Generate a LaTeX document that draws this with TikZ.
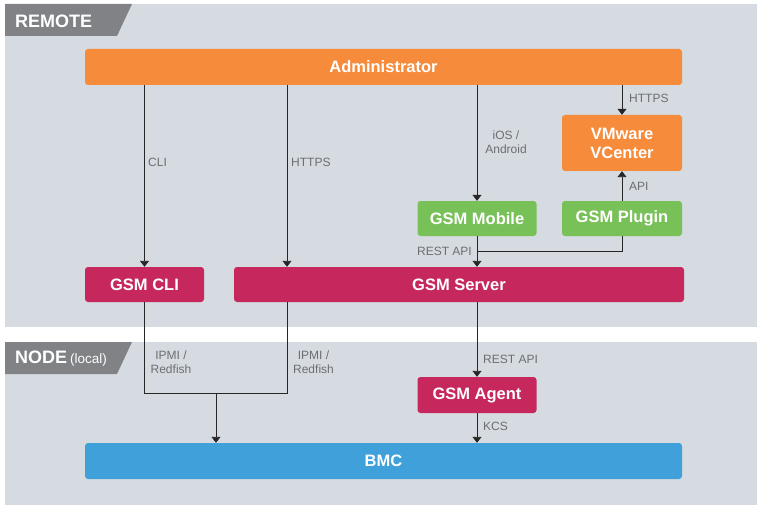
\documentclass[tikz,border=0pt]{standalone}
\usepackage{fontspec}
\setmainfont{Liberation Sans}
\usetikzlibrary{arrows.meta,positioning}
\definecolor{panelgray}{HTML}{D5DBE1}
\definecolor{taggray}{HTML}{808285}
\definecolor{admorange}{HTML}{F68B3B}
\definecolor{gsmgreen}{HTML}{78C159}
\definecolor{gsmred}{HTML}{C6285E}
\definecolor{bmcblue}{HTML}{3FA0DA}
\definecolor{lblgray}{HTML}{6D6E71}
\tikzset{box/.style={rounded corners=3pt, text=white, font=\fontsize{16.5}{19}\selectfont\bfseries, align=center, inner sep=0pt},
         lbl/.style={text=lblgray, font=\fontsize{12}{14}\selectfont, align=center, inner sep=0pt},
         arr/.style={draw=black!85, line width=0.9pt, -{Triangle[width=9pt,length=6pt]}},
         wire/.style={draw=black!85, line width=0.9pt}}

\begin{document}
\begin{tikzpicture}[x=1pt,y=-1pt] % 1pt is one pixel of the picture, y runs down
\useasboundingbox (0,0) rectangle (757,505);
% the two zones
\fill[panelgray] (5,4) rectangle (757,327);
\fill[panelgray] (5,342) rectangle (757,505);
\fill[taggray] (5,4) -- (132,4) -- (117,36) -- (5,36) -- cycle;
\fill[taggray] (5,342) -- (132,342) -- (117,374) -- (5,374) -- cycle;
\node[anchor=west, text=white, font=\fontsize{18}{20}\selectfont\bfseries, inner sep=0pt] (remote) at (15,21) {REMOTE};
\node[anchor=west, text=white, font=\fontsize{18}{20}\selectfont\bfseries, inner sep=0pt] (nodetag) at (15,359) {NODE\,{\mdseries\fontsize{13.5}{15}\selectfont(local)}};
% boxes
\node[box, fill=admorange, minimum width=597pt, minimum height=36pt] (adm) at (383.5,67) {Administrator};
\node[box, fill=admorange, minimum width=120pt, minimum height=56pt] (vmw) at (622,143) {VMware\\VCenter};
\node[box, fill=gsmgreen, minimum width=119pt, minimum height=35pt] (mob) at (477,218.5) {GSM Mobile};
\node[box, fill=gsmgreen, minimum width=120pt, minimum height=35pt] (plg) at (622,218.5) {GSM Plugin};
\node[box, fill=gsmred, minimum width=119pt, minimum height=35pt] (cli) at (144.5,284.5) {GSM CLI};
\node[box, fill=gsmred, minimum width=450pt, minimum height=35pt] (srv) at (459,284.5) {GSM Server};
\node[box, fill=gsmred, minimum width=119pt, minimum height=36pt] (agt) at (477,395) {GSM Agent};
\node[box, fill=bmcblue, minimum width=597pt, minimum height=36pt] (bmc) at (383.5,461) {BMC};
% helper points
\coordinate (hx) at (287,0);
\coordinate (rest) at (477,251);
\coordinate (join) at (216,393);
% connectors
\draw[arr] (adm.south -| cli) -- (cli.north);
\draw[arr] (adm.south -| hx) -- (srv.north -| hx);
\draw[arr] (adm.south -| mob) -- (mob.north);
\draw[arr] (adm.south -| vmw) -- (vmw.north);
\draw[arr] (plg.north) -- (vmw.south);
\draw[wire] (plg.south) |- (rest);
\draw[arr] (mob.south) -- (srv.north -| mob);
\draw[wire] (cli.south) |- (hx |- join) -- (srv.south -| hx);
\draw[arr] (join) -- (bmc.north -| join);
\draw[arr] (srv.south -| agt) -- (agt.north);
\draw[arr] (agt.south) -- (bmc.north -| agt);
% connector labels
\node[lbl, anchor=west] (lcli) at (148,162) {CLI};
\node[lbl, anchor=west] (lhttps) at (291,162) {HTTPS};
\node[lbl] (lios) at (506,142) {iOS /\\Android};
\node[lbl, anchor=west] (lvmw) at (629,98) {HTTPS};
\node[lbl, anchor=west] (lapi) at (629,186) {API};
\node[lbl, anchor=east] (lrest) at (472,251) {REST API};
\node[lbl] (lipmi) at (171,362.5) {IPMI /\\Redfish};
\node[lbl] (lipmi2) at (313.5,362.5) {IPMI /\\Redfish};
\node[lbl, anchor=west] (lagt) at (483,359) {REST API};
\node[lbl, anchor=west] (lkcs) at (483,426) {KCS};
\end{tikzpicture}
\end{document}
